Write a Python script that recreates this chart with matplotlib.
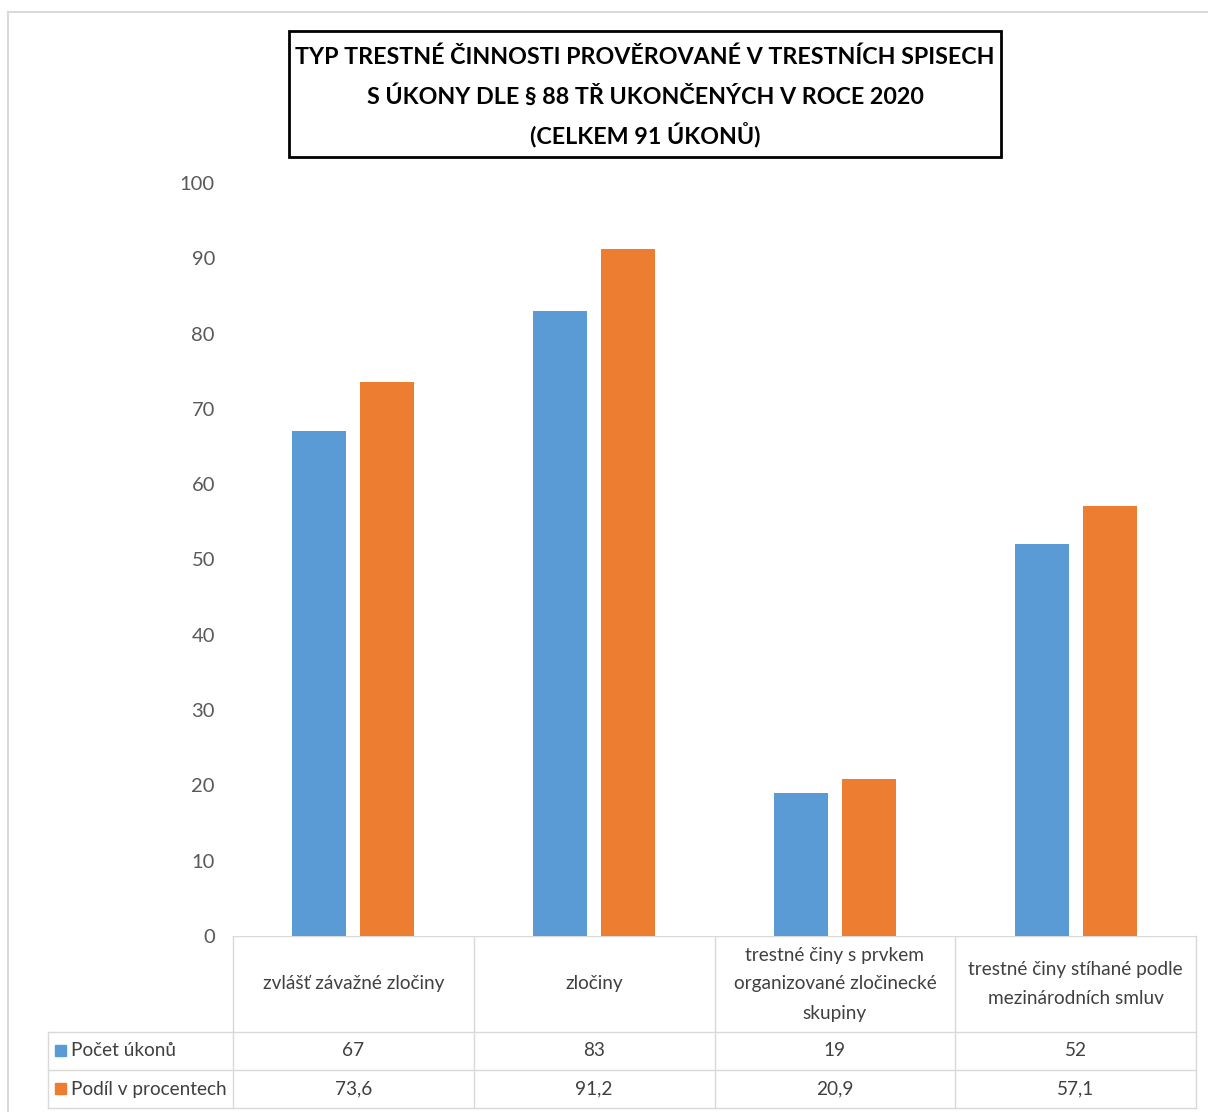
import matplotlib.pyplot as plt
import matplotlib.font_manager as fm
from matplotlib.patches import Rectangle

# Data
kategorie = ['zvlášť závažné zločiny', 'zločiny',
             'trestné činy s prvkem\norganizované zločinecké\nskupiny',
             'trestné činy stíhané podle\nmezinárodních smluv']
pocet_ukonu = [67, 83, 19, 52]
podil_proc = [73.6, 91.2, 20.9, 57.1]
serie = ['Počet úkonů', 'Podíl v procentech']
barvy = ['#5B9BD5', '#ED7D31']
nazev = 'TYP TRESTNÉ ČINNOSTI PROVĚROVANÉ V TRESTNÍCH SPISECH\nS ÚKONY DLE § 88 TŘ UKONČENÝCH V ROCE 2020\n(CELKEM 91 ÚKONŮ)'

names = {f.name for f in fm.fontManager.ttflist}
font = 'Lato' if 'Lato' in names else 'DejaVu Sans'
plt.rcParams['font.family'] = [font, 'DejaVu Sans']

W, H = 1208, 1112
fig = plt.figure(figsize=(W / 100, H / 100), dpi=100)
rend = fig.canvas.get_renderer()


def fit_size(text, width, weight='normal', base=20):
    # velikost pisma tak, aby text mel danou sirku v pixelech
    t = fig.text(0, 0, text, fontsize=base, fontweight=weight)
    w = t.get_window_extent(rend).width
    t.remove()
    return base * width / w


fs_title = fit_size(nazev.split('\n')[0], 700, 'bold')
fs_tab = fit_size(kategorie[0], 181)
fs_tick = fit_size('100', 35)

# hlavni graf
x0, x1, y0, y1 = 233, 1196, 936, 183
ax = fig.add_axes([x0 / W, 1 - y0 / H, (x1 - x0) / W, (y0 - y1) / H])
n = len(kategorie)
pos = list(range(n))
bw = 0.224
off = 0.141
ax.bar([p - off for p in pos], pocet_ukonu, bw, color=barvy[0])
ax.bar([p + off for p in pos], podil_proc, bw, color=barvy[1])
ax.set_xlim(-0.5, n - 0.5)
ax.set_ylim(0, 100)
ax.set_yticks(range(0, 101, 10))
ax.set_xticks([])
for s in ax.spines.values():
    s.set_visible(False)
ax.tick_params(axis='y', length=0, pad=13, labelsize=fs_tick, labelcolor='#595959')

# overlay pro tabulku a nadpis
ov = fig.add_axes([0, 0, 1, 1], zorder=-1)
ov.set_xlim(0, W)
ov.set_ylim(H, 0)
ov.axis('off')

# vnejsi ramecek
ov.plot([8, 8], [H, 12], color='#d9d9d9', lw=1.5)
ov.plot([8, W], [12, 12], color='#d9d9d9', lw=1.5)

# nadpis
ov.add_patch(Rectangle((289, 31), 712, 126, fill=False, ec='black', lw=2))
for i, line in enumerate(nazev.split('\n')):
    ov.text(645, 57 + i * 39, line, ha='center', va='center', fontsize=fs_title,
            fontweight='bold', color='black')

# tabulka
gc = '#d9d9d9'
cw = (x1 - x0) / n
cols = [x0 + i * cw for i in range(n + 1)]
rows = [936, 1032, 1070, 1108]
ov.plot([x0, x1], [rows[0], rows[0]], color=gc, lw=1)
for r in rows[1:]:
    ov.plot([48, x1], [r, r], color=gc, lw=1)
ov.plot([48, 48], [rows[1], rows[3]], color=gc, lw=1)
for c in cols:
    ov.plot([c, c], [rows[0], rows[3]], color=gc, lw=1)

tc = '#404040'
for i, k in enumerate(kategorie):
    cx = x0 + (i + 0.5) * cw
    radky = k.split('\n')
    cy0 = (rows[0] + rows[1]) / 2 - (len(radky) - 1) * 29 / 2
    for j, r in enumerate(radky):
        ov.text(cx, cy0 + j * 29, r, ha='center', va='center',
                fontsize=fs_tab, color=tc)
    ov.text(cx, (rows[1] + rows[2]) / 2, str(pocet_ukonu[i]), ha='center',
            va='center', fontsize=fs_tab, color=tc)
    ov.text(cx, (rows[2] + rows[3]) / 2, str(podil_proc[i]).replace('.', ','),
            ha='center', va='center', fontsize=fs_tab, color=tc)

for j, s in enumerate(serie):
    cy = (rows[j + 1] + rows[j + 2]) / 2
    ov.add_patch(Rectangle((55, cy - 6), 11, 11, color=barvy[j]))
    ov.text(71, cy, s, ha='left', va='center', fontsize=fs_tab, color=tc)

fig.savefig('out.png', dpi=100)
